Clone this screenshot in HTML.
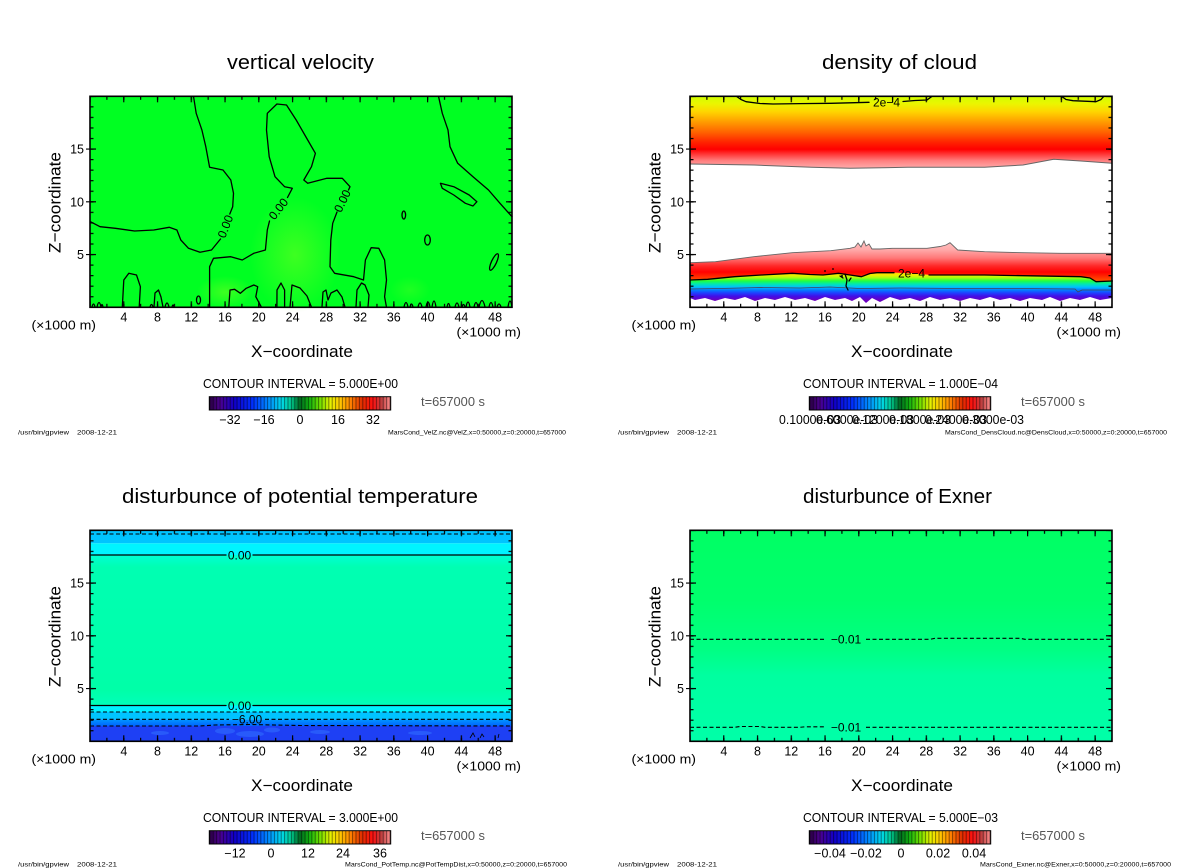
<!DOCTYPE html>
<html><head><meta charset="utf-8">
<style>
html,body{margin:0;padding:0;background:#fff;width:1200px;height:868px;overflow:hidden}
svg{display:block}
text{font-family:"Liberation Sans",Arial,sans-serif;fill:#000}
.t{font-size:20px}
.tk{font-size:12.5px}
.ax{font-size:16.5px}
.ci{font-size:12.5px}
.ft{font-size:6.5px}
.cl{font-size:12px}
.gr{fill:#555}
.ct{fill:none;stroke:#000;stroke-width:1.3;stroke-linejoin:round;stroke-linecap:round}
.dsh{fill:none;stroke:#000;stroke-width:1.1;stroke-dasharray:4 2.5}
</style></head><body>
<svg width="1200" height="868" viewBox="0 0 1200 868" xmlns="http://www.w3.org/2000/svg" xmlns:xlink="http://www.w3.org/1999/xlink">
<defs>
<pattern id="pxmin" patternUnits="userSpaceOnUse" x="-0.6" y="0" width="16.88" height="211"><rect x="0" y="0" width="1.2" height="3.5"/><rect x="0" y="207.5" width="1.2" height="3.5"/></pattern>
<pattern id="pxmaj" patternUnits="userSpaceOnUse" x="-0.6" y="0" width="33.76" height="211"><rect x="0" y="0" width="1.2" height="6"/><rect x="0" y="205" width="1.2" height="6"/></pattern>
<pattern id="pymin" patternUnits="userSpaceOnUse" x="0" y="-0.6" width="422" height="10.55"><rect x="0" y="0" width="3.5" height="1.2"/><rect x="418.5" y="0" width="3.5" height="1.2"/></pattern>
<pattern id="pymaj" patternUnits="userSpaceOnUse" x="0" y="-0.6" width="422" height="52.75"><rect x="0" y="0" width="6" height="1.2"/><rect x="416" y="0" width="6" height="1.2"/></pattern>

<linearGradient id="cbg" x1="0" x2="1" y1="0" y2="0">
<stop offset="0" stop-color="#2a0040"/>
<stop offset="0.06" stop-color="#4a0090"/>
<stop offset="0.14" stop-color="#1000c8"/>
<stop offset="0.24" stop-color="#0030ff"/>
<stop offset="0.33" stop-color="#0090ff"/>
<stop offset="0.40" stop-color="#00d8e8"/>
<stop offset="0.45" stop-color="#00c890"/>
<stop offset="0.5" stop-color="#006a20"/>
<stop offset="0.55" stop-color="#10b010"/>
<stop offset="0.61" stop-color="#70e000"/>
<stop offset="0.67" stop-color="#e8f000"/>
<stop offset="0.72" stop-color="#ffc800"/>
<stop offset="0.78" stop-color="#ff8000"/>
<stop offset="0.84" stop-color="#e03000"/>
<stop offset="0.90" stop-color="#ff1010"/>
<stop offset="0.95" stop-color="#c04040"/>
<stop offset="1" stop-color="#ff9090"/>
</linearGradient>
<pattern id="cbs" patternUnits="userSpaceOnUse" x="0" y="0" width="3.4" height="14"><rect x="0" y="0" width="1" height="14" fill="#000" fill-opacity="0.45"/></pattern>
<g id="cb"><rect width="181.4" height="13.3" fill="url(#cbg)"/><rect width="181.4" height="13.3" fill="url(#cbs)"/><rect width="181.4" height="13.3" fill="none" stroke="#000" stroke-width="1"/></g>

<g id="ticks">
<rect width="422" height="211" fill="url(#pxmin)"/>
<rect width="422" height="211" fill="url(#pxmaj)"/>
<rect width="422" height="211" fill="url(#pymin)"/>
<rect width="422" height="211" fill="url(#pymaj)"/>
<path d="M-4 52.75H0M-4 105.5H0M-4 158.25H0" stroke="#000" stroke-width="1.2"/>
<rect width="422" height="211" fill="none" stroke="#000" stroke-width="1.6"/>
</g>

<g id="common">
<use xlink:href="#ticks" href="#ticks" transform="translate(90,96.3)"/>
<text class="tk" x="84" y="153.5" text-anchor="end">15</text>
<text class="tk" x="84" y="206.3" text-anchor="end">10</text>
<text class="tk" x="84" y="259" text-anchor="end">5</text>
<g class="tk" text-anchor="middle">
<text class="tk" x="123.8" y="321.5">4</text>
<text class="tk" x="157.5" y="321.5">8</text>
<text class="tk" x="191.3" y="321.5">12</text>
<text class="tk" x="225" y="321.5">16</text>
<text class="tk" x="258.8" y="321.5">20</text>
<text class="tk" x="292.6" y="321.5">24</text>
<text class="tk" x="326.3" y="321.5">28</text>
<text class="tk" x="360.1" y="321.5">32</text>
<text class="tk" x="393.8" y="321.5">36</text>
<text class="tk" x="427.6" y="321.5">40</text>
<text class="tk" x="461.4" y="321.5">44</text>
<text class="tk" x="495.1" y="321.5">48</text>
</g>
<text class="tk" x="31.5" y="329.5" textLength="64.5" lengthAdjust="spacingAndGlyphs">(×1000 m)</text>
<text class="tk" x="456.5" y="336.5" textLength="64.5" lengthAdjust="spacingAndGlyphs">(×1000 m)</text>
<text class="ax" x="251" y="357" textLength="102" lengthAdjust="spacingAndGlyphs">X−coordinate</text>
<text class="ax" transform="translate(60.5,202.5) rotate(-90)" text-anchor="middle" textLength="101" lengthAdjust="spacingAndGlyphs">Z−coordinate</text>
<text class="tk gr" x="421" y="406" textLength="64" lengthAdjust="spacingAndGlyphs">t=657000 s</text>
</g>

<radialGradient id="blob" cx="0.5" cy="0.5" r="0.5">
<stop offset="0" stop-color="#70ff20" stop-opacity="0.55"/>
<stop offset="1" stop-color="#70ff20" stop-opacity="0"/>
</radialGradient>
<linearGradient id="gTop" gradientUnits="userSpaceOnUse" x1="0" y1="96" x2="0" y2="168">
<stop offset="0" stop-color="#d0ff00"/>
<stop offset="0.11" stop-color="#ecf500"/>
<stop offset="0.22" stop-color="#ffd400"/>
<stop offset="0.36" stop-color="#ff9c00"/>
<stop offset="0.5" stop-color="#ff6400"/>
<stop offset="0.64" stop-color="#ff2400"/>
<stop offset="0.74" stop-color="#ff0000"/>
<stop offset="0.82" stop-color="#ff4040"/>
<stop offset="0.9" stop-color="#ff8080"/>
<stop offset="1" stop-color="#ffaaaa"/>
</linearGradient>
<linearGradient id="gRed" gradientUnits="userSpaceOnUse" x1="0" y1="242" x2="0" y2="282">
<stop offset="0" stop-color="#ffc0c0"/>
<stop offset="0.2" stop-color="#ffa8a8"/>
<stop offset="0.4" stop-color="#ff7878"/>
<stop offset="0.6" stop-color="#ff2828"/>
<stop offset="0.75" stop-color="#ff0000"/>
<stop offset="0.88" stop-color="#ff3000"/>
<stop offset="1" stop-color="#ff6000"/>
</linearGradient>
<linearGradient id="gLow" gradientUnits="userSpaceOnUse" x1="0" y1="272" x2="0" y2="300">
<stop offset="0" stop-color="#ffc800"/>
<stop offset="0.11" stop-color="#f0f000"/>
<stop offset="0.21" stop-color="#a0ff10"/>
<stop offset="0.32" stop-color="#20ff40"/>
<stop offset="0.43" stop-color="#00e8b0"/>
<stop offset="0.54" stop-color="#00c0ff"/>
<stop offset="0.64" stop-color="#0080ff"/>
<stop offset="0.75" stop-color="#2040ff"/>
<stop offset="0.86" stop-color="#4010e8"/>
<stop offset="1" stop-color="#6a00c0"/>
</linearGradient>
<linearGradient id="gBLmid" gradientUnits="userSpaceOnUse" x1="0" y1="555" x2="0" y2="705.5">
<stop offset="0" stop-color="#00ffd4"/>
<stop offset="0.08" stop-color="#00ffb2"/>
<stop offset="0.9" stop-color="#00ffa8"/>
<stop offset="1" stop-color="#00ffba"/>
</linearGradient>
<linearGradient id="gBLlow" gradientUnits="userSpaceOnUse" x1="0" y1="719" x2="0" y2="726">
<stop offset="0" stop-color="#0098ff"/>
<stop offset="1" stop-color="#0064ff"/>
</linearGradient>
<linearGradient id="gBR" gradientUnits="userSpaceOnUse" x1="0" y1="530" x2="0" y2="741">
<stop offset="0" stop-color="#00ff64"/>
<stop offset="0.33" stop-color="#00ff6c"/>
<stop offset="0.57" stop-color="#00ff84"/>
<stop offset="0.69" stop-color="#00ffa0"/>
<stop offset="1" stop-color="#00ffa8"/>
</linearGradient>
</defs>

<rect width="1200" height="868" fill="#fff"/>

<!-- ============ TOP-LEFT: vertical velocity ============ -->
<rect x="90" y="96.3" width="422" height="211" fill="#00ff22"/>
<ellipse cx="295" cy="255" rx="45" ry="58" fill="url(#blob)"/>
<ellipse cx="225" cy="292" rx="28" ry="16" fill="url(#blob)"/>
<ellipse cx="410" cy="290" rx="20" ry="14" fill="url(#blob)" opacity="0.5"/>
<g class="ct">
<path d="M193.5 96.3 L196.2 113.3 L201.9 130 L205.8 146.7 L209.6 167.3 L223 170 L230.8 180 L233.5 193.3 L232.7 206.7 L229.8 214"/>
<path d="M220.5 239 L211.5 250 L200 252.3 L188.5 248.3 L180.8 240 L176.9 230 L169.2 227.3 L153.8 230 L134.6 231 L115.4 228.3 L100 226.7 L90.4 221.7"/>
<path d="M209.6 307.3 L209.6 266.7 L213.5 258.3 L230.8 256.7 L242.3 260 L253.8 253.3 L265.4 250 L267.3 230 L269.5 221"/>
<path d="M287.5 197.5 L292.3 188.3 L284.6 186.7 L275 176.7 L269.2 156.7 L266.5 130 L267.3 113.3 L276.9 104 L286.5 105 L296.2 120 L307.7 140 L315.4 153.3 L311.5 166.7 L303.8 180 L307.7 183.3 L326.9 178.3 L342.3 178.3 L350 186.7 L348.5 190"/>
<path d="M337 212 L332.7 223.3 L330.8 240 L330 266.7 L334.6 273.3 L353.8 276.7 L363.5 280 L365.4 260 L371.2 247.7 L378.8 248.3 L384.6 260 L386.5 280 L384.6 296.7 L386.5 307.3"/>
<path d="M438.5 96.3 L442.3 113.3 L448 130 L450 146.7 L457.7 163.3 L473 176.7 L488.5 190 L500 203.3 L512 216.7"/>
<path d="M440.4 183.3 L453.8 186.7 L469.2 195 L476.9 201.7 L473 206 L465.4 203.3 L453.8 195 L442.3 188.3 Z"/>
<ellipse cx="403.8" cy="215" rx="1.8" ry="4"/>
<ellipse cx="427.5" cy="240" rx="2.8" ry="5"/>
<ellipse cx="494" cy="262" rx="2.5" ry="9" transform="rotate(25 494 262)"/>
<ellipse cx="198.5" cy="300" rx="2" ry="4"/>
<path d="M92 307 q1.5 -6 3 0 M97 307 q2 -9 4 0 M101 307 q1 -5 2 0"/>
<path d="M122.3 307.3 L123.8 280 L128.8 273.3 L136.5 275 L140.4 286.7 L139.2 307.3"/>
<path d="M150 307 q1.5 -5 3 0 M154 307 L155 293 L158.5 290 L161 297 L163 307 M165 307 q2 -8 4 0 M172 307 q1 -4 2 0"/>
<path d="M228.8 307.3 L230 290 L234.6 289.3 L240.4 293.3 L246.2 288.3 L253.8 285 L257.7 286.7 L255.8 296.7 L261.5 307.3"/>
<path d="M276.9 307.3 L277 290 L281 283 L284.6 290 L284.6 307.3"/>
<path d="M290 307.3 L292 285 L300 288 L307 296 L311.5 307.3"/>
<path d="M322 307 L323 292 L326 290 L328 300 L331 293 L337 290 L342 297 L345 307"/>
<path d="M356 307 L357 290 L361.5 283 L365 285 L369 295 L368 307"/>
<path d="M404 307 q2 -9 4 0 M410 307 q1.5 -6 3 0 M418 307 q2 -8 4 0 M426 307 q2 -10 4 0 M432 307 q2 -12 4 0 M447 307 q1.5 -7 3 0 M455 307 q2 -8 4 0 M462 307 q1.5 -5 3 0 M466 307 q2 -10 4 0 M474 307 q2 -9 4 0 M479 307 q3 -13 6 0 M489 307 q2 -9 4 0 M497 307 q2 -6 4 0 M508 307 q2 -12 4 0"/>
</g>
<text class="cl" transform="translate(225.5,226.5) rotate(-69)" text-anchor="middle" dy="4">0.00</text>
<text class="cl" transform="translate(278.5,209) rotate(-52)" text-anchor="middle" dy="4">0.00</text>
<text class="cl" transform="translate(342.5,201) rotate(-64)" text-anchor="middle" dy="4">0.00</text>

<!-- ============ TOP-RIGHT: density of cloud ============ -->
<path d="M690 96.3 H1112 V163.3 L1080.8 161 L1053.8 159.3 L1023 165 L984.6 167.3 L907.7 167.3 L850 168.3 L811.5 167.3 L753.8 165 L690 164 Z" fill="url(#gTop)"/>
<path d="M690 164 L753.8 165 L811.5 167.3 L850 168.3 L907.7 167.3 L984.6 167.3 L1023 165 L1053.8 159.3 L1080.8 161 L1112 163.3" fill="none" stroke="#666" stroke-width="1"/>
<path d="M690.4 262.7 L715.4 261.7 L753.8 256.7 L792.3 252.7 L830.8 250.7 L850 248.3 L855 247 L858 243 L861 247 L864 241 L866 246 L869 244 L872 249 L880 249 L892.3 248.3 L927 248.3 L940 246.5 L946 245 L950 242.7 L957.7 250 L984.6 251.7 L1023 252.7 L1061.5 253.3 L1112.3 253.3 L1112.3 281 L1096 281.7 L1090 278 L1080.8 276.7 L1023 275.7 L984.6 275 L929 275 L911 273.3 L894 272.7 L877 272.7 L870 273.5 L861.5 276.7 L850 275 L838.5 273.3 L823 275 L810 274.5 L792.3 273.3 L761.5 275 L734.6 276.7 L707.7 279.3 L690.4 280 Z" fill="url(#gRed)"/>
<path d="M690.4 280 L707.7 279.3 L734.6 276.7 L761.5 275 L792.3 273.3 L810 274.5 L823 275 L838.5 273.3 L850 275 L861.5 276.7 L870 273.5 L877 272.7 L894 272.7 L911 273.3 L929 275 L984.6 275 L1023 275.7 L1080.8 276.7 L1090 278 L1096 281.7 L1112.3 281 L1112 298 L1100 300 L1090 297 L1080 300 L1070 298 L1060 301 L1050 297 L1042 300 L1030 298 L1020 301 L1010 298 L1000 300 L990 297 L980 300 L970 298 L960 301 L950 298 L940 300 L930 297 L920 301 L910 298 L900 300 L890 297 L880 302 L872 298 L866 303 L860 297 L852 301 L845 298 L835 300 L825 297 L815 301 L805 298 L795 300 L785 297 L775 300 L765 298 L755 301 L745 297 L735 300 L725 298 L715 301 L705 298 L695 300 L690 298 Z" fill="url(#gLow)"/>
<path d="M690.4 262.7 L715.4 261.7 L753.8 256.7 L792.3 252.7 L830.8 250.7 L850 248.3 L855 247 L858 243 L861 247 L864 241 L866 246 L869 244 L872 249 L880 249 L892.3 248.3 L927 248.3 L940 246.5 L946 245 L950 242.7 L957.7 250 L984.6 251.7 L1023 252.7 L1061.5 253.3 L1112.3 253.3" fill="none" stroke="#666" stroke-width="0.9"/>
<path d="M690 289 L720 288.5 L760 287.5 L800 288 L830 287 L860 288.5 L900 288 L960 288.5 L1020 288.5 L1075 289 L1078 292 L1082 290 L1112 290" fill="none" stroke="#445" stroke-width="0.8"/>
<g class="ct">
<path d="M736.5 96.3 L741 99.5 L746 101.7 L760 103.5 L773 104 L800 103.6 L830.8 103.3 L869 102.3"/>
<path d="M903 101.5 L915 100.5 L927 100 L932 96.3"/>
<path d="M1061.5 96.3 L1066 99.5 L1073 100.7 L1096 101.7 L1101 99.5 L1103.8 96.3"/>
<path d="M690.4 280 L707.7 279.3 L734.6 276.7 L761.5 275 L792.3 273.3 L810 274.5 L823 275 L838.5 273.3 L850 275 L861.5 276.7 L870 273.5 L877 272.7 L894 272.7"/>
<path d="M929 275 L984.6 275 L1023 275.7 L1080.8 276.7 L1090 278 L1096 281.7 L1112.3 281"/>
<path d="M845 274 L847 280 L846 286 L848 290 M840 276 l3 2 M851 278 l-2 3"/>
</g>
<circle cx="825" cy="271" r="0.9"/><circle cx="833" cy="269" r="0.9"/><circle cx="842" cy="276" r="1"/>
<text class="cl" x="886.5" y="106.5" text-anchor="middle">2e−4</text>
<text class="cl" x="911.5" y="277.5" text-anchor="middle">2e−4</text>

<!-- ============ BOTTOM-LEFT: potential temperature ============ -->
<rect x="90" y="530.3" width="422" height="13" fill="#00c4ff"/>
<rect x="90" y="543.3" width="422" height="11.7" fill="#00f4ff"/>
<rect x="90" y="555" width="422" height="150.5" fill="url(#gBLmid)"/>
<rect x="90" y="705.5" width="422" height="6.5" fill="#00f0ff"/>
<rect x="90" y="712" width="422" height="7.3" fill="#00c4ff"/>
<rect x="90" y="719.3" width="422" height="6.7" fill="url(#gBLlow)"/>
<rect x="90" y="726" width="422" height="15.3" fill="#1e40f4"/>
<g fill="#2f6cff" opacity="0.6">
<ellipse cx="225" cy="731" rx="10" ry="3"/><ellipse cx="250" cy="734" rx="14" ry="3"/><ellipse cx="272" cy="730" rx="8" ry="2.5"/>
<ellipse cx="160" cy="733" rx="9" ry="2"/><ellipse cx="320" cy="732" rx="10" ry="2"/><ellipse cx="420" cy="733" rx="12" ry="2"/>
</g>
<path class="dsh" d="M90 534H512"/>
<path class="ct" d="M90 555H226M253 555H512"/>
<path class="ct" d="M90 705.5H226M253 705.5H512"/>
<path class="dsh" d="M90 712H512"/>
<path class="dsh" d="M90 719.3H229M265 719.3H512"/>
<path class="dsh" d="M90 726H200 L215 725 L250 724.5 L300 725.5 L512 726"/>
<text class="cl" x="239.5" y="559.3" text-anchor="middle">0.00</text>
<text class="cl" x="239.5" y="709.8" text-anchor="middle">0.00</text>
<text class="cl" x="247" y="723.6" text-anchor="middle">−6.00</text>
<path d="M470 738 l3 -5 l2 4 M480 738 l2 -4 l2 3 M498 738 l1 -4" fill="none" stroke="#000" stroke-width="0.8"/>

<!-- ============ BOTTOM-RIGHT: Exner ============ -->
<rect x="690" y="530.3" width="422" height="211" fill="url(#gBR)"/>
<path class="dsh" d="M690 639.3H826M866 639.3 H930 L935 638.3 H1020 L1025 639.3 H1112"/>
<path class="dsh" d="M690 727.3H735 L740 726.5 H760 L765 727.3 H800 L805 726.8 H826M866 727.3H1112"/>
<text class="cl" x="846" y="643.5" text-anchor="middle">−0.01</text>
<text class="cl" x="846" y="731.5" text-anchor="middle">−0.01</text>

<!-- ============ common axes ============ -->
<use xlink:href="#common" href="#common"/>
<use xlink:href="#common" href="#common" x="600"/>
<use xlink:href="#common" href="#common" y="434"/>
<use xlink:href="#common" href="#common" x="600" y="434"/>

<!-- titles -->
<text class="t" x="227" y="69" textLength="147" lengthAdjust="spacingAndGlyphs">vertical velocity</text>
<text class="t" x="822" y="69" textLength="155" lengthAdjust="spacingAndGlyphs">density of cloud</text>
<text class="t" x="122" y="503" textLength="356" lengthAdjust="spacingAndGlyphs">disturbunce of potential temperature</text>
<text class="t" x="803" y="503" textLength="189" lengthAdjust="spacingAndGlyphs">disturbunce of Exner</text>

<!-- contour intervals -->
<text class="ci" x="203" y="388" textLength="195" lengthAdjust="spacingAndGlyphs">CONTOUR INTERVAL = 5.000E+00</text>
<text class="ci" x="803" y="388" textLength="195" lengthAdjust="spacingAndGlyphs">CONTOUR INTERVAL = 1.000E−04</text>
<text class="ci" x="203" y="822" textLength="195" lengthAdjust="spacingAndGlyphs">CONTOUR INTERVAL = 3.000E+00</text>
<text class="ci" x="803" y="822" textLength="195" lengthAdjust="spacingAndGlyphs">CONTOUR INTERVAL = 5.000E−03</text>

<!-- colorbars -->
<use xlink:href="#cb" href="#cb" x="209.3" y="396.7"/>
<use xlink:href="#cb" href="#cb" x="809.3" y="396.7"/>
<use xlink:href="#cb" href="#cb" x="209.3" y="830.7"/>
<use xlink:href="#cb" href="#cb" x="809.3" y="830.7"/>

<g text-anchor="middle">
<text class="tk" x="230" y="424">−32</text>
<text class="tk" x="264" y="424">−16</text>
<text class="tk" x="300" y="424">0</text>
<text class="tk" x="338" y="424">16</text>
<text class="tk" x="373" y="424">32</text>

<text class="tk" x="235" y="857.5">−12</text>
<text class="tk" x="271" y="857.5">0</text>
<text class="tk" x="308" y="857.5">12</text>
<text class="tk" x="343" y="857.5">24</text>
<text class="tk" x="380" y="857.5">36</text>

<text class="tk" x="830" y="857.5">−0.04</text>
<text class="tk" x="866" y="857.5">−0.02</text>
<text class="tk" x="901" y="857.5">0</text>
<text class="tk" x="938" y="857.5">0.02</text>
<text class="tk" x="974" y="857.5">0.04</text>
</g>
<g>
<text class="tk" x="779" y="424" textLength="62" lengthAdjust="spacingAndGlyphs">0.1000e-03</text>
<text class="tk" x="816" y="424" textLength="62" lengthAdjust="spacingAndGlyphs">0.6000e-03</text>
<text class="tk" x="852" y="424" textLength="62" lengthAdjust="spacingAndGlyphs">0.1200e-03</text>
<text class="tk" x="889" y="424" textLength="62" lengthAdjust="spacingAndGlyphs">0.1800e-03</text>
<text class="tk" x="925" y="424" textLength="62" lengthAdjust="spacingAndGlyphs">0.2400e-03</text>
<text class="tk" x="962" y="424" textLength="62" lengthAdjust="spacingAndGlyphs">0.3000e-03</text>
</g>

<!-- footers -->
<text class="ft" x="18" y="434.5" textLength="51" lengthAdjust="spacingAndGlyphs">/usr/bin/gpview</text>
<text class="ft" x="77" y="434.5" textLength="40" lengthAdjust="spacingAndGlyphs">2008-12-21</text>
<text class="ft" x="618" y="434.5" textLength="51" lengthAdjust="spacingAndGlyphs">/usr/bin/gpview</text>
<text class="ft" x="677" y="434.5" textLength="40" lengthAdjust="spacingAndGlyphs">2008-12-21</text>
<text class="ft" x="18" y="866.5" textLength="51" lengthAdjust="spacingAndGlyphs">/usr/bin/gpview</text>
<text class="ft" x="77" y="866.5" textLength="40" lengthAdjust="spacingAndGlyphs">2008-12-21</text>
<text class="ft" x="618" y="866.5" textLength="51" lengthAdjust="spacingAndGlyphs">/usr/bin/gpview</text>
<text class="ft" x="677" y="866.5" textLength="40" lengthAdjust="spacingAndGlyphs">2008-12-21</text>

<text class="ft" x="388" y="434.5" textLength="178" lengthAdjust="spacingAndGlyphs">MarsCond_VelZ.nc@VelZ,x=0:50000,z=0:20000,t=657000</text>
<text class="ft" x="945" y="434.5" textLength="222" lengthAdjust="spacingAndGlyphs">MarsCond_DensCloud.nc@DensCloud,x=0:50000,z=0:20000,t=657000</text>
<text class="ft" x="345" y="866.5" textLength="222" lengthAdjust="spacingAndGlyphs">MarsCond_PotTemp.nc@PotTempDist,x=0:50000,z=0:20000,t=657000</text>
<text class="ft" x="980" y="866.5" textLength="191" lengthAdjust="spacingAndGlyphs">MarsCond_Exner.nc@Exner,x=0:50000,z=0:20000,t=657000</text>
</svg>
</body></html>
